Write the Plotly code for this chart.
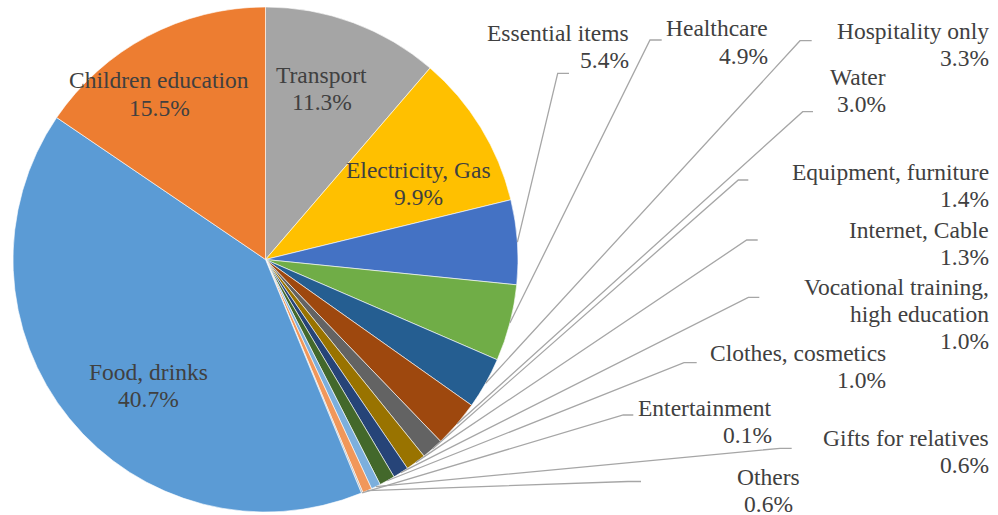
import math
import plotly.graph_objects as go

# Household spending shares (%), in clockwise order from 12 o'clock
categories = [
    "Transport", "Electricity, Gas", "Essential items", "Healthcare",
    "Hospitality only", "Water", "Equipment, furniture", "Internet, Cable",
    "Vocational training,<br>high education", "Clothes, cosmetics",
    "Gifts for relatives", "Others", "Entertainment", "Food, drinks",
    "Children education",
]
shares = [11.3, 9.9, 5.4, 4.9, 3.3, 3.0, 1.4, 1.3, 1.0, 1.0, 0.6, 0.6, 0.1, 40.7, 15.5]
colors = [
    "#A5A5A5", "#FFC000", "#4472C4", "#70AD47", "#255E91", "#9E480E",
    "#636363", "#997300", "#264478", "#43682B", "#7CAFDD", "#F1975A",
    "#B7B7B7", "#5B9BD5", "#ED7D31",
]

W, H = 998, 515
CX, CY, R = 265.5, 259.5, 252.5          # pie centre and radius in pixels
FONT = dict(family="Liberation Serif, Tinos, Nimbus Roman, DejaVu Serif",
            size=23.5, color="#404040")
LINE_H = 27.0

# Label placement per category: (anchor x px, first-line centre y px, xanchor,
# leader elbow (x, y) px or None, leader end x px)
label_layout = {
    "Children education":   (159, 80.5, "center", None, None),
    "Transport":            (321.5, 75, "center", None, None),
    "Electricity, Gas":     (418.5, 170, "center", None, None),
    "Food, drinks":         (148.5, 372, "center", None, None),
    "Essential items":      (630, 33, "right", (557.7, 73.3), 569),
    "Healthcare":           (769, 28.5, "right", (650, 40), 661.7),
    "Hospitality only":     (990, 31, "right", (800, 40.7), 811.7),
    "Water":                (887, 77, "right", (802.7, 111.7), 813),
    "Equipment, furniture": (990, 172, "right", (738.3, 180), 748.3),
    "Internet, Cable":      (990, 230, "right", (746.7, 240), 757.7),
    "Vocational training,<br>high education": (990, 287, "right", (748.3, 297.3), 759.3),
    "Clothes, cosmetics":   (887, 353, "right", (684, 362.7), 696.7),
    "Entertainment":        (773, 408, "right", (623.3, 415), 633.3),
    "Gifts for relatives":  (990, 438, "right", (780, 448.3), 791.7),
    "Others":               (768, 477, "center", (628, 481.5), 641),
}


def px_to_paper(x, y):
    return x / W, 1 - y / H


fig = go.Figure(
    go.Pie(
        labels=categories,
        values=shares,
        sort=False,
        direction="clockwise",
        rotation=0,
        marker=dict(colors=colors, line=dict(color="#FFFFFF", width=0.6)),
        textinfo="none",
        hoverinfo="label+percent",
        showlegend=False,
        domain=dict(
            x=[(CX - R) / W, (CX + R) / W],
            y=[1 - (CY + R) / H, 1 - (CY - R) / H],
        ),
    )
)

annotations = []
shapes = []
total = sum(shares)
cum = 0.0
for name, val in zip(categories, shares):
    mid = (cum + val / 2) / total * 2 * math.pi
    cum += val
    ax, ay, anchor, elbow, end_x = label_layout[name]
    lines = name.split("<br>") + [f"{val / total * 100:.1f}%"]
    for i, line in enumerate(lines):
        x, y = px_to_paper(ax, ay + i * LINE_H)
        annotations.append(dict(
            x=x, y=y, xref="paper", yref="paper", text=line,
            xanchor=anchor, yanchor="middle", showarrow=False, font=FONT,
            borderpad=0,
        ))
    if elbow is not None:
        sx = CX + R * math.sin(mid)
        sy = CY - R * math.cos(mid)
        p0 = px_to_paper(sx, sy)
        p1 = px_to_paper(*elbow)
        p2 = px_to_paper(end_x, elbow[1])
        shapes.append(dict(
            type="path", xref="paper", yref="paper",
            path=f"M {p0[0]},{p0[1]} L {p1[0]},{p1[1]} L {p2[0]},{p2[1]}",
            line=dict(color="#A6A6A6", width=1.3),
        ))

fig.update_layout(
    width=W, height=H,
    margin=dict(l=0, r=0, t=0, b=0),
    paper_bgcolor="#FFFFFF",
    plot_bgcolor="#FFFFFF",
    annotations=annotations,
    shapes=shapes,
)

fig.write_html("out.html")
